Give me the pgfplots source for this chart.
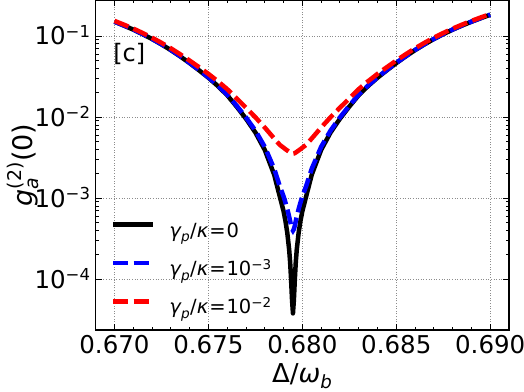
\documentclass[border=0pt]{standalone}
\usepackage{fontspec}
\setmainfont{DejaVu Sans}
\usepackage{amsmath}
\usepackage{pgfplots}
\usepackage{pgfplotstable}
\pgfplotsset{compat=1.18}

\newcommand{\mi}[1]{\text{\itshape #1}}
\newcommand{\tsup}[3]{\raisebox{#1}{\fontsize{#2}{#2}\selectfont #3}}

\pgfplotstableread{
x        black      blue       red
0.6700   0.1500     0.1504     0.1535
0.6705   0.1346     0.1350     0.1381
0.6710   0.1199     0.1203     0.1234
0.6715   0.1054     0.1058     0.1089
0.6720   0.0918     0.09216    0.0953
0.6725   0.0789     0.07926    0.0824
0.6730   0.0670     0.06736    0.0705
0.6735   0.0560     0.05636    0.0595
0.6740   0.0463     0.04666    0.0498
0.6745   0.0378     0.03816    0.0413
0.6750   0.0306     0.03096    0.0341
0.6755   0.0242     0.02456    0.0277
0.6760   0.01862    0.01898    0.02212
0.6765   0.01349    0.01385    0.01699
0.6770   0.00955    0.00991    0.01305
0.6775   0.00646    0.00682    0.00996
0.6780   0.00394    0.00430    0.00744
0.6785   0.00195    0.00231    0.00545
0.6788   0.001047   0.001407   0.004547
0.6790   0.000692   0.001052   0.004192
0.6791   0.000525   0.000885   0.004025
0.6792   0.000372   0.000732   0.003872
0.6793   0.000229   0.000589   0.003729
0.67935  0.000162   0.000522   0.003662
0.6794   0.000100   0.000460   0.003600
0.67945  0.0000562  0.000416   0.003556
0.6795   0.0000380  0.000398   0.003538
0.67955  0.0000562  0.000416   0.003556
0.6796   0.000100   0.000460   0.003600
0.67965  0.000162   0.000522   0.003662
0.6797   0.000229   0.000589   0.003729
0.6798   0.000372   0.000732   0.003872
0.6799   0.000525   0.000885   0.004025
0.6800   0.000692   0.001052   0.004192
0.6802   0.001047   0.001407   0.004547
0.6805   0.00195    0.00231    0.00545
0.6810   0.00394    0.00430    0.00744
0.6815   0.00646    0.00682    0.00996
0.6820   0.00955    0.00991    0.01305
0.6825   0.01349    0.01385    0.01699
0.6830   0.01862    0.01898    0.02212
0.6835   0.0242     0.02456    0.0277
0.6840   0.0306     0.03096    0.0341
0.6845   0.0378     0.03816    0.0413
0.6850   0.0463     0.04666    0.0498
0.6855   0.0560     0.05636    0.0595
0.6860   0.0670     0.06736    0.0705
0.6865   0.0789     0.07926    0.0824
0.6870   0.0918     0.09216    0.0953
0.6875   0.1054     0.1058     0.1089
0.6880   0.1199     0.1203     0.1234
0.6885   0.1346     0.1350     0.1381
0.6890   0.1500     0.1504     0.1535
0.6895   0.1660     0.1664     0.1695
0.6900   0.1828     0.1832     0.1863
}\gdata

\begin{document}
\begin{tikzpicture}
\begin{axis}[
  scale only axis, width=413.3pt, height=330pt,
  ymode=log,
  xmin=0.669, xmax=0.691, ymin=2.37e-5, ymax=0.278,
  xtick={0.670,0.675,0.680,0.685,0.690},
  xticklabels={0.670,0.675,0.680,0.685,0.690},
  minor x tick num=4,
  ytick={1e-4,1e-3,1e-2,1e-1},
  yticklabels={10\tsup{7.5pt}{16.5}{−4},10\tsup{7.5pt}{16.5}{−3},10\tsup{7.5pt}{16.5}{−2},10\tsup{7.5pt}{16.5}{−1}},
  tick align=inside,
  major tick length=6pt, minor tick length=3.5pt,
  tick style={black, line width=0.9pt},
  axis line style={line width=1.2pt},
  grid=major,
  major grid style={black!45, line width=0.8pt, dash pattern=on 1pt off 1.6pt},
  ticklabel style={font=\fontsize{24.5}{28}\selectfont},
  xticklabel style={anchor=base, yshift=-23.3pt},
  yticklabel style={anchor=base east, inner sep=0pt, xshift=-5.5pt, yshift=-8.9pt},
  xlabel={Δ/$\mi{ω}_{\mi{b}}$},
  xlabel style={at={(axis description cs:0.5,-0.160)}, anchor=base, font=\fontsize{26}{30}\selectfont},
  ylabel={$\mi{g}_{\mi{a}}^{\text{(2)}}$(0)},
  ylabel style={at={(axis description cs:-0.153,0.5)}, anchor=base, font=\fontsize{27}{30}\selectfont},
  legend style={draw=none, fill=none, at={(axis description cs:0.037,0.3264)}, anchor=north west,
    inner sep=0pt, outer sep=0pt, row sep=19.7pt, column sep=14pt,
    font=\fontsize{19.5}{21}\selectfont,
    nodes={inner sep=0pt, text height=13pt, text depth=4pt}},
  legend cell align=left,
  legend image code/.code={\draw[#1] (0pt,8pt) -- (40pt,8pt);},
]
\addplot[black, line width=4.5pt, line join=round] table[x=x,y=black]{\gdata};
\addlegendentry{$\mi{γ}_{\mi{p}}$/$\mi{κ}$\kern1pt=\kern1pt0}
\addplot[blue, line width=4.5pt, dash pattern=on 15pt off 5.5pt] table[x=x,y=blue]{\gdata};
\addlegendentry{$\mi{γ}_{\mi{p}}$/$\mi{κ}$\kern1pt=\kern1pt10\tsup{6pt}{13.5}{−3}}
\addplot[red, line width=4.5pt, dash pattern=on 15pt off 5.5pt] table[x=x,y=red]{\gdata};
\addlegendentry{$\mi{γ}_{\mi{p}}$/$\mi{κ}$\kern1pt=\kern1pt10\tsup{6pt}{13.5}{−2}}
\node[anchor=base west, inner sep=0pt, font=\fontsize{24}{28}\selectfont] at (axis description cs:0.042,0.8127) {[c]};
\coordinate (sw) at (rel axis cs:0,0);
\coordinate (ne) at (rel axis cs:1,1);
\end{axis}
\pgfresetboundingbox
\useasboundingbox ([shift={(-95.7pt,-62pt)}]sw) rectangle ([shift={(15pt,0pt)}]ne);
\end{tikzpicture}
\end{document}
